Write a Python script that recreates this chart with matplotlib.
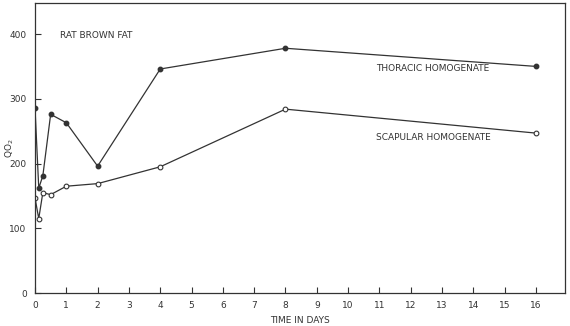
import matplotlib
matplotlib.use("Agg")
import matplotlib.pyplot as plt

# data
days_thoracic = [0, 0.12, 0.25, 0.5, 1, 2, 4, 8, 16]
qo2_thoracic = [286, 162, 181, 276, 263, 196, 346, 378, 350]

days_scapular = [0, 0.12, 0.25, 0.5, 1, 2, 4, 8, 16]
qo2_scapular = [147, 115, 155, 152, 165, 169, 195, 284, 247]

x_ticks = list(range(17))
x_tick_labels = [str(i) for i in x_ticks]
y_ticks = [0, 100, 200, 300, 400]

plt.rcParams["font.family"] = ["DejaVu Sans"]
ink = "#333333"

fig = plt.figure(figsize=(5.7, 3.26), dpi=100)
ax = fig.add_axes([0.0614, 0.101, 0.93, 0.89])

ax.plot(days_thoracic, qo2_thoracic, color=ink, lw=0.9, marker="o", ms=3.2,
        mfc=ink, mec=ink)
ax.plot(days_scapular, qo2_scapular, color=ink, lw=0.9, marker="o", ms=3.4,
        mfc="white", mec=ink, mew=0.8)

ax.set_xlim(0, 16.93)
ax.set_ylim(0, 448)
ax.set_xticks(x_ticks)
ax.set_xticklabels(x_tick_labels)
ax.set_yticks(y_ticks)
ax.tick_params(direction="in", length=4, width=0.8, colors=ink,
               labelsize=6.5, pad=6)

for s in ax.spines.values():
    s.set_color(ink)
    s.set_linewidth(0.9)

ax.set_xlabel("TIME IN DAYS", fontsize=6.5, color=ink, labelpad=4)
ax.set_ylabel("QO$_2$", fontsize=6.5, color=ink, va="center")
ax.yaxis.set_label_coords(-0.048, 0.5)

ax.text(0.8, 398, "RAT BROWN FAT", fontsize=6.5, color=ink, va="center")
ax.text(10.9, 346, "THORACIC HOMOGENATE", fontsize=6.5, color=ink, va="center")
ax.text(10.9, 240, "SCAPULAR HOMOGENATE", fontsize=6.5, color=ink, va="center")

fig.savefig("out.png", dpi=100)
